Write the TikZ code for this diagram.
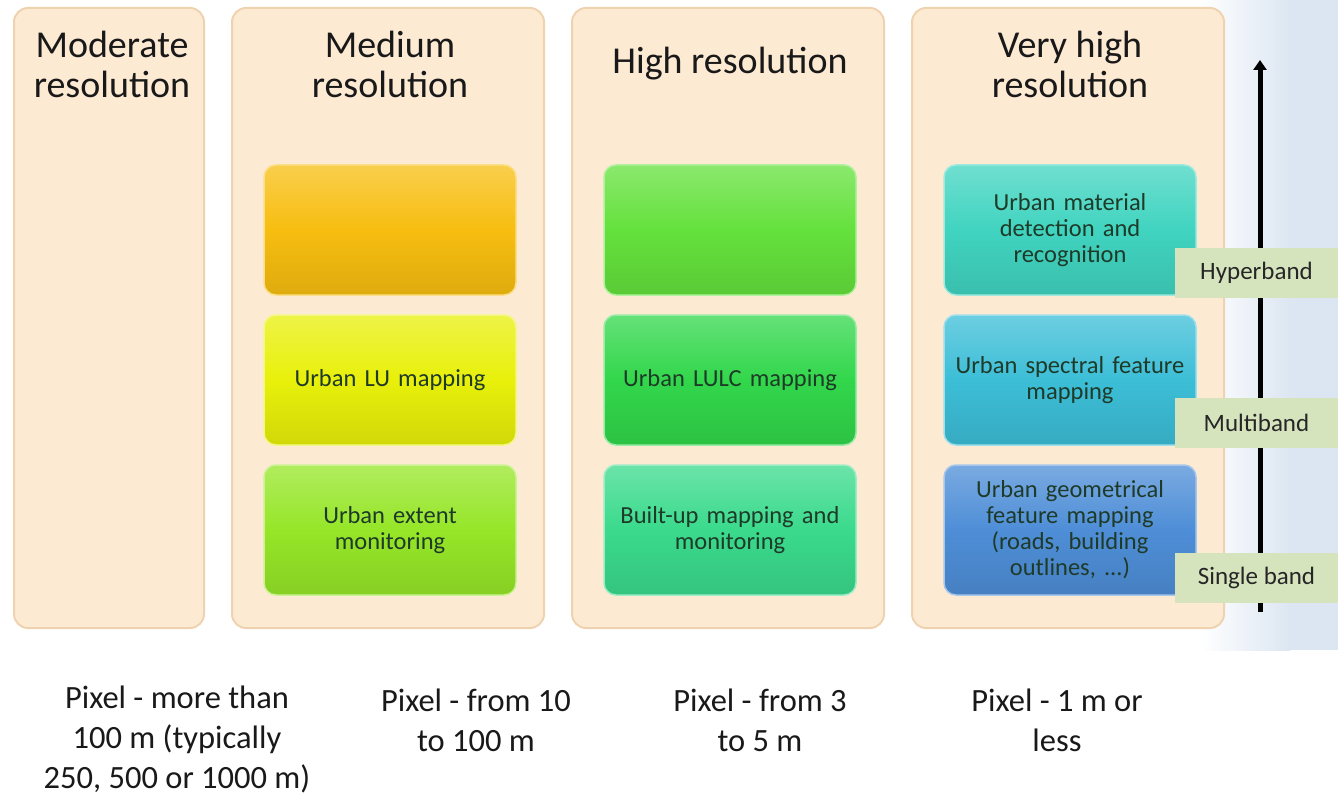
\documentclass[tikz,border=0pt]{standalone}
\usepackage{fontspec}
\setmainfont{Carlito}
\usetikzlibrary{arrows.meta,positioning,fadings}
\definecolor{peach}{HTML}{FDEAD3}
\definecolor{peachedge}{HTML}{EFD3B0}
\definecolor{txtdark}{HTML}{1E3A28}
\definecolor{lblgreen}{HTML}{D6E4BE}
\definecolor{skyblue}{HTML}{DCE6F2}
\definecolor{cA}{HTML}{F7BE10}
\definecolor{cB}{HTML}{E8F00A}
\definecolor{cC}{HTML}{96E628}
\definecolor{cD}{HTML}{64E13C}
\definecolor{cE}{HTML}{32D74B}
\definecolor{cF}{HTML}{3ADA8C}
\definecolor{cG}{HTML}{40D4C0}
\definecolor{cH}{HTML}{3CBED7}
\definecolor{cI}{HTML}{4E8ED7}
\tikzset{
  column/.style={fill=peach, draw=peachedge, line width=2pt, rounded corners=14pt},
  title/.style={align=center, font=\fontsize{38}{40}\selectfont, text=black!90},
  bottomtxt/.style={align=center, font=\fontsize{32.5}{40}\selectfont, text=black!90},
  appbox/.style={rounded corners=12pt, minimum width=252pt, minimum height=130pt, inner sep=2pt,
    align=center, text width=246pt, font=\fontsize{24.5}{26}\selectfont, text=txtdark, draw=white!50!#1, line width=1.5pt,
    top color=white!25!#1, bottom color=#1!90!black, middle color=#1},
  bandlbl/.style={fill=lblgreen, minimum width=163pt, minimum height=50pt, font=\fontsize{25}{26}\selectfont, text=black!85}
}
\begin{document}
\begin{tikzpicture}[x=1pt,y=-1pt]
\useasboundingbox (0,0) rectangle (1338,794);
% right blue area
\shade[left color=white, right color=skyblue] (1200,0) rectangle (1290,650);
\fill[skyblue] (1290,0) rectangle (1338,650);
% columns
\draw[column] (14,8) rectangle (204,628);
\draw[column] (232,8) rectangle (544,628);
\draw[column] (572,8) rectangle (884,628);
\draw[column] (912,8) rectangle (1224,628);
% titles
\node[title] (t1) at (112,64) {Moderate\\resolution};
\node[title] (t2) at (390,64) {Medium\\resolution};
\node[title] (t3) at (730,64) {High resolution};
\node[title] (t4) at (1070,64) {Very high\\resolution};
% column 2
\node[appbox=cA] (b21) at (390,230) {};
\node[appbox=cB] (b22) at (390,380) {Urban LU mapping};
\node[appbox=cC] (b23) at (390,530) {Urban extent\\monitoring};
% column 3
\node[appbox=cD] (b31) at (730,230) {};
\node[appbox=cE] (b32) at (730,380) {Urban LULC mapping};
\node[appbox=cF] (b33) at (730,530) {Built-up mapping and\\monitoring};
% column 4
\node[appbox=cG] (b41) at (1070,230) {Urban material\\detection and\\recognition};
\node[appbox=cH] (b42) at (1070,380) {Urban spectral feature\\mapping};
\node[appbox=cI] (b43) at (1070,530) {Urban geometrical\\feature mapping\\(roads, building\\outlines, ...)};
% arrow
\coordinate (abot) at (1260,612);
\coordinate (atop) at (1260,60);
\draw[line width=5pt, -{Triangle[length=10pt,width=13pt]}] (abot) -- (atop);
% band labels
\node[bandlbl] (hb) at (1256.5,273) {Hyperband};
\node[bandlbl] (mb) at (1256.5,423) {Multiband};
\node[bandlbl] (sb) at (1256.5,578) {Single band};
% bottom texts
\node[bottomtxt] (p1) at (177,739) {Pixel - more than\\100 m (typically\\250, 500 or 1000 m)};
\node[bottomtxt] (p2) at (476,720) {Pixel - from 10\\to 100 m};
\node[bottomtxt] (p3) at (760,720) {Pixel - from 3\\to 5 m};
\node[bottomtxt] (p4) at (1057,720) {Pixel - 1 m or\\less};
\end{tikzpicture}
\end{document}
